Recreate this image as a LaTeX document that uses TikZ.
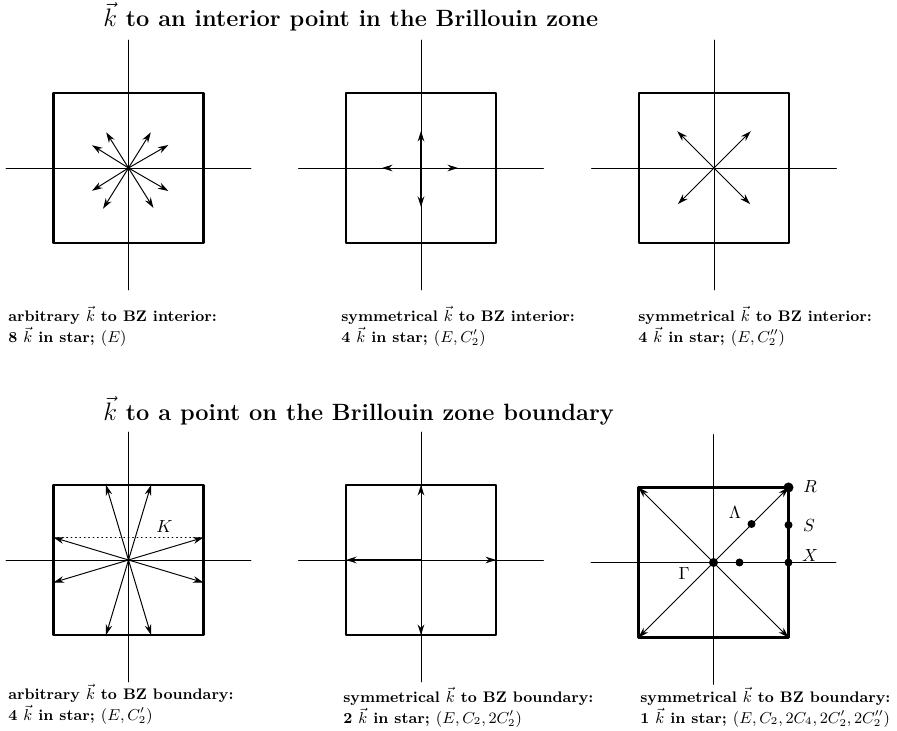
\documentclass[tikz,border=0pt]{standalone}
\usetikzlibrary{arrows.meta}

\tikzset{
  zone/.style={line width=1.2pt},
  axis/.style={line width=0.5pt},
  kvec/.style={line width=0.55pt,-{Stealth[length=6pt,width=3.8pt,inset=2pt]}},
  kvecbold/.style={kvec,line width=1pt},
  heading/.style={anchor=base west,font=\fontsize{13.4pt}{16pt}\selectfont\bfseries,inner sep=0pt},
  caption/.style={anchor=north west,align=left,font=\fontsize{8.7pt}{10.6pt}\selectfont\bfseries,inner sep=0pt},
  kpoint/.style={fill=black,draw=none}
}

\begin{document}
\begin{tikzpicture}[line cap=round,line join=round]
  \def\H{1.5}
  \useasboundingbox (0,0) rectangle (17.94,-14.62);
  \node[heading] (headint) at (2.06,-0.54) {$\vec k$ to an interior point in the Brillouin zone};
  \node[heading] (headbnd) at (2.06,-8.42) {$\vec k$ to a point on the Brillouin zone boundary};

  % interior: arbitrary k
  \begin{scope}[shift={(2.57,-3.36)}]
    \draw[axis] (-2.45,0) -- (2.45,0);
    \draw[axis] (0,-2.44) -- (0,2.56);
    \draw[zone] (-\H,-\H) rectangle (\H,\H);
    \draw[kvec] (0,0) -- (30:0.92);
    \draw[kvec] (0,0) -- (58:0.84);
    \draw[kvec] (0,0) -- (122:0.84);
    \draw[kvec] (0,0) -- (148:0.86);
    \draw[kvec] (0,0) -- (212:0.86);
    \draw[kvec] (0,0) -- (238:0.96);
    \draw[kvec] (0,0) -- (302:0.94);
    \draw[kvec] (0,0) -- (330:0.92);
  \end{scope}
  \node[caption] (capint1) at (0.16,-6.12)
    {arbitrary $\vec k$ to BZ interior:\\[1pt] 8 $\vec k$ in star; $(E)$};

  % interior: k along an axis
  \begin{scope}[shift={(8.42,-3.36)}]
    \draw[axis] (-2.45,0) -- (2.45,0);
    \draw[axis] (0,-2.44) -- (0,2.56);
    \draw[zone] (-\H,-\H) rectangle (\H,\H);
    \draw[kvecbold] (0,0) -- (0,0.74);
    \draw[kvecbold] (0,0) -- (0,-0.78);
    \draw[kvec] (0,0) -- (-0.78,0);
    \draw[kvec] (0,0) -- (0.74,0);
  \end{scope}
  \node[caption] (capint2) at (6.82,-6.12)
    {symmetrical $\vec k$ to BZ interior:\\[1pt] 4 $\vec k$ in star; $(E,C_2')$};

  % interior: k along a diagonal
  \begin{scope}[shift={(14.28,-3.36)}]
    \draw[axis] (-2.45,0) -- (2.45,0);
    \draw[axis] (0,-2.44) -- (0,2.56);
    \draw[zone] (-\H,-\H) rectangle (\H,\H);
    \draw[kvec] (0,0) -- (45:1.04);
    \draw[kvec] (0,0) -- (135:1.04);
    \draw[kvec] (0,0) -- (225:1.02);
    \draw[kvec] (0,0) -- (315:1.02);
  \end{scope}
  \node[caption] (capint3) at (12.76,-6.12)
    {symmetrical $\vec k$ to BZ interior:\\[1pt] 4 $\vec k$ in star; $(E,C_2'')$};

  % boundary: arbitrary k
  \begin{scope}[shift={(2.57,-11.2)}]
    \draw[axis] (-2.45,0) -- (2.45,0);
    \draw[axis] (0,-2.44) -- (0,2.56);
    \draw[zone] (-\H,-\H) rectangle (\H,\H);
    \draw[line width=0.5pt,dotted] (-\H,0.45) -- (\H,0.45);
    \draw[kvec] (0,0) -- (-0.45,\H);
    \draw[kvec] (0,0) -- (0.45,\H);
    \draw[kvec] (0,0) -- (-\H,0.45);
    \draw[kvec] (0,0) -- (\H,0.45);
    \draw[kvec] (0,0) -- (-\H,-0.45);
    \draw[kvec] (0,0) -- (\H,-0.45);
    \draw[kvec] (0,0) -- (-0.45,-\H);
    \draw[kvec] (0,0) -- (0.45,-\H);
    \node (lblK) at (0.72,0.66) {$K$};
  \end{scope}
  \node[caption] (capbnd1) at (0.16,-13.68)
    {arbitrary $\vec k$ to BZ boundary:\\[1pt] 4 $\vec k$ in star; $(E,C_2')$};

  % boundary: k at face centres
  \begin{scope}[shift={(8.42,-11.2)}]
    \draw[axis] (-2.45,0) -- (2.45,0);
    \draw[axis] (0,-2.44) -- (0,2.56);
    \draw[zone] (-\H,-\H) rectangle (\H,\H);
    \draw[kvec] (0,0) -- (0,\H);
    \draw[kvec] (0,0) -- (0,-\H);
    \draw[kvecbold] (0,0) -- (-\H,0);
    \draw[kvec] (0,0) -- (\H,0);
  \end{scope}
  \node[caption] (capbnd2) at (6.86,-13.74)
    {symmetrical $\vec k$ to BZ boundary:\\[1pt] 2 $\vec k$ in star; $(E,C_2,2C_2')$};

  % boundary: k at corners, symmetry points
  \begin{scope}[shift={(14.27,-11.25)}]
    \draw[axis] (-2.45,0) -- (2.45,0);
    \draw[axis] (0,-2.44) -- (0,2.56);
    \draw[zone] (-\H,-\H) rectangle (\H,\H);
    \draw[kvec] (0,0) -- (\H,\H);
    \draw[kvec] (0,0) -- (-\H,\H);
    \draw[kvec] (0,0) -- (-\H,-\H);
    \draw[kvec] (0,0) -- (\H,-\H);
    \coordinate (ptG) at (0,0);
    \coordinate (ptL) at (0.76,0.77);
    \coordinate (ptD) at (0.52,0);
    \coordinate (ptR) at (\H,\H);
    \coordinate (ptS) at (\H,0.75);
    \coordinate (ptX) at (\H,0);
    \fill[kpoint] (ptG) circle (0.09);
    \fill[kpoint] (ptL) circle (0.08);
    \fill[kpoint] (ptD) circle (0.08);
    \fill[kpoint] (ptR) circle (0.1);
    \fill[kpoint] (ptS) circle (0.08);
    \fill[kpoint] (ptX) circle (0.08);
    \node (lblR) at (1.93,1.51) {$R$};
    \node (lblS) at (1.91,0.73) {$S$};
    \node (lblX) at (1.93,0.13) {$X$};
    \node (lblL) at (0.43,0.99) {$\Lambda$};
    \node (lblG) at (-0.59,-0.23) {$\Gamma$};
  \end{scope}
  \node[caption] (capbnd3) at (12.80,-13.74)
    {symmetrical $\vec k$ to BZ boundary:\\[1pt] 1 $\vec k$ in star; $(E,C_2,2C_4,2C_2',2C_2'')$};
\end{tikzpicture}
\end{document}
